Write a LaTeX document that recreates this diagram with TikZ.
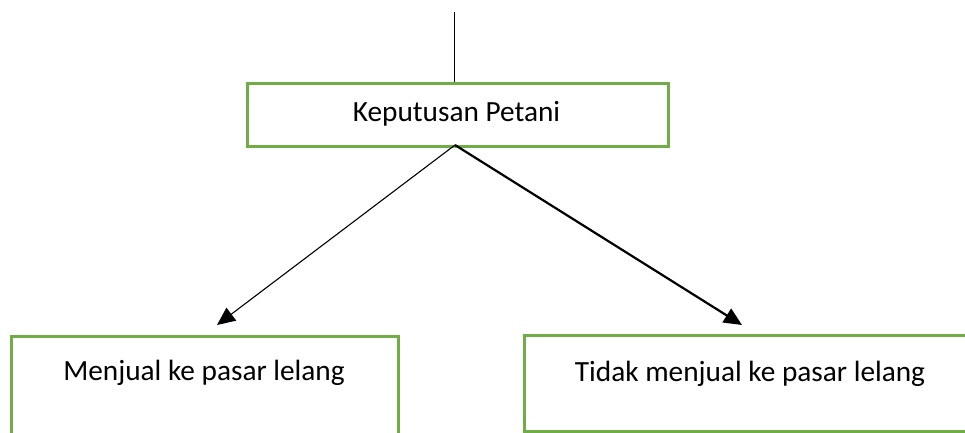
\documentclass[tikz,border=0pt]{standalone}
\usepackage{fontspec}
\setmainfont{Carlito}
\usetikzlibrary{arrows.meta}
\definecolor{boxgreen}{HTML}{70AD47}
\tikzset{
  gbox/.style={draw=boxgreen, line width=3pt, rectangle, inner sep=0pt, fill=none},
  lbl/.style={inner sep=0pt, font=\fontsize{29.3}{35}\selectfont, text=black},
  conn/.style={draw=black, line width=1.1pt},
  thickconn/.style={draw=black, line width=2.2pt},
  tip/.style={-{Triangle[length=18pt,width=16pt]}}
}
\begin{document}
\begin{tikzpicture}[x=1pt,y=-1pt]
\useasboundingbox (0,0) rectangle (965,432);
\clip (0,0) rectangle (965,432);
% top box
\node[gbox, anchor=north west, minimum width=421pt, minimum height=63pt] (k) at (246,82) {};
\node[lbl, anchor=base] (kt) at (456.5,121) {Keputusan Petani};
% bottom boxes
\node[gbox, anchor=north west, minimum width=387.5pt, minimum height=120pt] (l) at (9.5,335) {};
\node[lbl, anchor=base] (lt) at (204,380) {Menjual ke pasar lelang};
\node[gbox, anchor=north west, minimum width=460pt, minimum height=96pt] (r) at (523,334) {};
\node[lbl, anchor=base] (rt) at (750,381) {Tidak menjual ke pasar lelang};
% connectors
\coordinate (top) at (454.5,12);
\coordinate (s) at (455,145);
\coordinate (la) at (217,325);
\coordinate (ra) at (742,325);
\draw[conn] (top) -- (top |- k.north);
\draw[conn, tip] (s) -- (la);
\draw[thickconn, tip] (s) -- (ra);
\end{tikzpicture}
\end{document}
